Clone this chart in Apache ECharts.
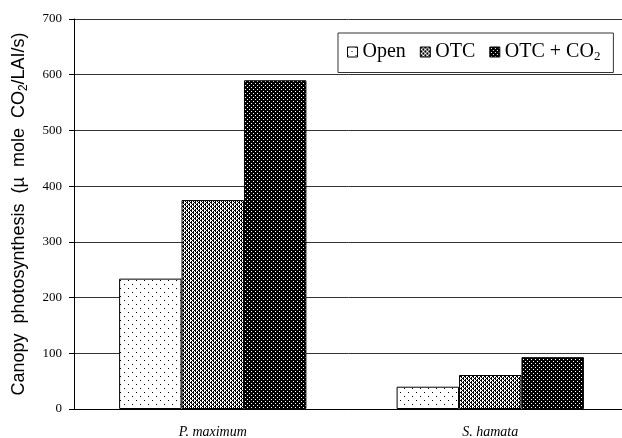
<!DOCTYPE html>
<html><head><meta charset="utf-8">
<script src="https://cdn.jsdelivr.net/npm/echarts@6/dist/echarts.min.js"></script>
<style>html,body{margin:0;padding:0;background:#fff}#c{width:622px;height:438px}</style>
</head><body><div id="c"></div>
<script>
const categories = ['P. maximum', 'S. hamata'];
const seriesNames = ['Open', 'OTC', 'OTC + CO2'];
const openValues = [234, 40];
const otcValues = [375, 61];
const otcCo2Values = [590, 93];
const yTicks = [0, 100, 200, 300, 400, 500, 600, 700];

function makePattern(kind) {
  const c = document.createElement('canvas');
  const ctx = c.getContext('2d');
  if (kind === 'open') {
    c.width = 8; c.height = 8;
    ctx.fillStyle = '#fff'; ctx.fillRect(0, 0, 8, 8);
    ctx.fillStyle = '#000';
    ctx.fillRect(0, 0, 1, 1); ctx.fillRect(4, 4, 1, 1);
  } else if (kind === 'otc') {
    c.width = 4; c.height = 4;
    ctx.fillStyle = '#fff'; ctx.fillRect(0, 0, 4, 4);
    ctx.fillStyle = '#000';
    ctx.fillRect(0, 0, 2, 1); ctx.fillRect(2, 2, 2, 1);
    ctx.fillRect(1, 1, 1, 1); ctx.fillRect(3, 3, 1, 1);
    ctx.fillRect(3, 1, 1, 1); ctx.fillRect(1, 3, 1, 1);
  } else {
    c.width = 4; c.height = 4;
    ctx.fillStyle = '#000'; ctx.fillRect(0, 0, 4, 4);
    ctx.fillStyle = '#fff';
    ctx.fillRect(1, 1, 1, 1); ctx.fillRect(3, 3, 1, 1);
  }
  return { image: c, repeat: 'repeat' };
}
const patterns = [makePattern('open'), makePattern('otc'), makePattern('co2')];
const dataSets = [openValues, otcValues, otcCo2Values];

const chart = echarts.init(document.getElementById('c'), null, { renderer: 'canvas' });
chart.setOption({
  animation: false,
  backgroundColor: '#fff',
  grid: { left: 74, width: 555, top: 19, height: 390, containLabel: false, outerBoundsMode: 'none' },
  legend: {
    left: 338, top: 33,
    orient: 'horizontal',
    borderColor: '#333', borderWidth: 1,
    padding: [9, 13, 9, 9],
    itemGap: 14, itemWidth: 10, itemHeight: 10,
    icon: 'rect',
    itemStyle: { borderColor: '#000', borderWidth: 1 },
    data: seriesNames,
    formatter: function (n) {
      if (n === 'OTC + CO2') return '{t|OTC + CO}{s|2}';
      return '{t|' + n + '}';
    },
    textStyle: {
      fontFamily: 'Liberation Serif', fontSize: 20, color: '#000',
      rich: {
        t: { fontFamily: 'Liberation Serif', fontSize: 20, color: '#000' },
        s: { fontFamily: 'Liberation Serif', fontSize: 13, color: '#000', verticalAlign: 'bottom', padding: [10, 0, 0, 0] }
      }
    }
  },
  xAxis: {
    type: 'category',
    data: categories,
    axisLine: { lineStyle: { color: '#000', width: 1 } },
    axisTick: { show: false },
    axisLabel: { fontFamily: 'Liberation Serif', fontStyle: 'italic', fontSize: 14, color: '#000', margin: 16 }
  },
  yAxis: {
    type: 'value', min: 0, max: 700, interval: 100,
    axisLine: { show: true, lineStyle: { color: '#000', width: 1 } },
    axisTick: { show: true, length: 5, lineStyle: { color: '#000' } },
    splitLine: { show: true, lineStyle: { color: '#333', width: 1 } },
    axisLabel: {
      fontFamily: 'Liberation Serif', fontSize: 13, color: '#000', margin: 12,
      formatter: function (v) { return yTicks.indexOf(v) >= 0 ? String(v) : ''; }
    },
    name: '{t|Canopy  photosynthesis  (µ  mole  CO}{s|2}{t|/LAI/s)}',
    nameLocation: 'middle', nameGap: 44, nameRotate: 90,
    nameTextStyle: {
      rich: {
        t: { fontFamily: 'Liberation Sans', fontSize: 18, color: '#000' },
        s: { fontFamily: 'Liberation Sans', fontSize: 12, color: '#000', verticalAlign: 'bottom', padding: [9, 0, 0, 0] }
      }
    }
  },
  series: seriesNames.map(function (n, i) {
    return {
      name: n, type: 'bar', data: dataSets[i],
      barGap: '0%', barCategoryGap: '32.5%',
      itemStyle: { color: patterns[i], borderColor: '#000', borderWidth: 1 }
    };
  })
});
</script></body></html>
